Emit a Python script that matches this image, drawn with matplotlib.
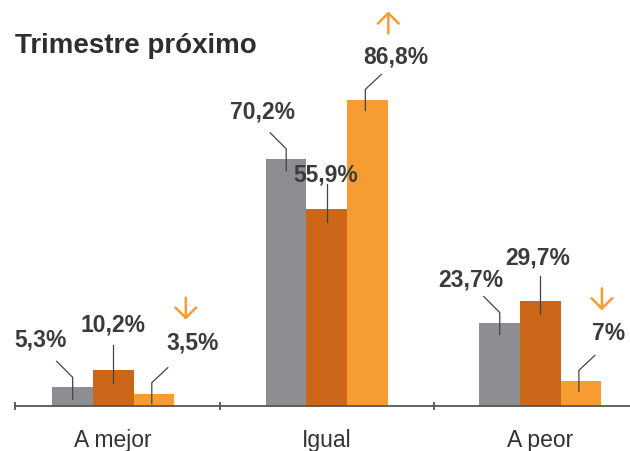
import matplotlib.pyplot as plt
from matplotlib.lines import Line2D
from matplotlib.transforms import IdentityTransform

categorias = ["A mejor", "Igual", "A peor"]
serie_gris = [5.3, 70.2, 23.7]
serie_oscura = [10.2, 55.9, 29.7]
serie_naranja = [3.5, 86.8, 7.0]
# tendencia marcada con flecha sobre la serie naranja
tendencia = ["down", "up", "down"]

titulo = "Trimestre próximo"

GRIS = "#8d8e92"
OSCURO = "#cc6719"
NARANJA = "#f69c33"
TEXTO = "#3b3b3b"

plt.rcParams["font.family"] = ["Liberation Sans", "DejaVu Sans"]

fig = plt.figure(figsize=(6.3, 4.52), dpi=100)
ax = fig.add_axes([15 / 630, 45 / 452, 615 / 630, 407 / 452])
ax.set_xlim(-0.46, 2.42)
ax.set_ylim(0, 115.6)
ax.axis("off")

ancho = 0.19
series = [serie_gris, serie_oscura, serie_naranja]
colores = [GRIS, OSCURO, NARANJA]
desfases = [-ancho, 0, ancho]
x = list(range(len(categorias)))

for vals, col, d in zip(series, colores, desfases):
    ax.bar([i + d for i in x], vals, width=ancho, color=col, linewidth=0)

# eje horizontal con marcas entre grupos
ax.axhline(0, color="#555555", lw=1.3, clip_on=False)
ax.plot([-0.46, 0.5, 1.5], [0, 0, 0], ls="none", marker="|", ms=6,
        mew=1.3, color="#555555", clip_on=False)

for i, cat in enumerate(categorias):
    ax.annotate(cat, (i, 0), xytext=(0, -40), textcoords="offset pixels",
                ha="center", va="baseline", fontsize=16.5, color="#333333")


def fmt(v):
    s = f"{v:.1f}".rstrip("0").rstrip(".")
    return s.replace(".", ",") + "%"


# centro de cada etiqueta respecto a la parte alta de su barra (px)
pos_etiquetas = [
    [(-32, 50), (-24, 49), (-29, 45)],
    [(0, 48), (-1, 37), (-3, 46)],
    [(39, 53), (28, 46), (28, 50)],
]
# guías: tramo vertical y tramo inclinado (px)
guias = [
    [(0, -12), (0, 10), (-16, 26)],
    [(0, -13), (0, 25)],
    [(-2, -10), (-2, 11), (14, 26)],
]

fig.canvas.draw()
for k, (vals, d) in enumerate(zip(series, desfases)):
    for i, v in enumerate(vals):
        px, py = ax.transData.transform((i + d, v))
        gx = [px + a for a, b in guias[k]]
        gy = [py + b for a, b in guias[k]]
        fig.add_artist(Line2D(gx, gy, transform=IdentityTransform(),
                              color="#444444", lw=0.9))
        dx, dy = pos_etiquetas[k][i]
        fig.text(px + dx, py + dy - 8, fmt(v), transform=IdentityTransform(),
                 ha="center", va="baseline", fontsize=16.5, fontweight="bold",
                 color=TEXTO)
        if k == 2:
            ax_x, ax_y = px + dx - 7, py + dy + 32
            if tendencia[i] == "up":
                ini, fin = (ax_x, ax_y - 11), (ax_x, ax_y + 11)
            else:
                ini, fin = (ax_x, ax_y + 11), (ax_x, ax_y - 11)
            ax.annotate("", xy=fin, xytext=ini, xycoords="figure pixels",
                        textcoords="figure pixels",
                        arrowprops=dict(arrowstyle="->,head_length=1,head_width=1",
                                        mutation_scale=7.5, color=NARANJA,
                                        lw=1.8, shrinkA=0, shrinkB=0))

fig.text(15 / 630, (452 - 53) / 452, titulo, ha="left", va="baseline",
         fontsize=20, fontweight="bold", color="#2e2e2e")

fig.savefig("out.png", dpi=100)
